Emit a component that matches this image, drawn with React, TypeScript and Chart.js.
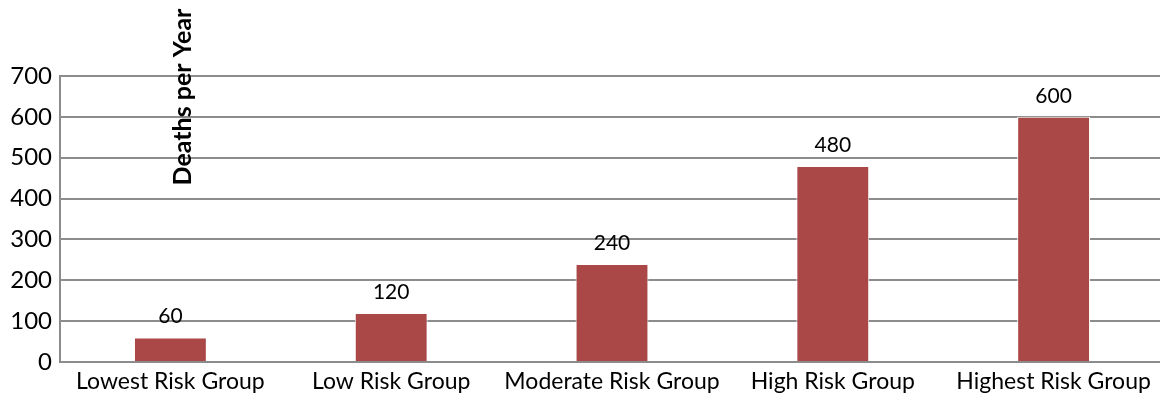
import React, { useEffect, useRef } from "react";
import { Chart, registerables } from "chart.js";

Chart.register(...registerables);

const categories = ["Lowest Risk Group", "Low Risk Group", "Moderate Risk Group", "High Risk Group", "Highest Risk Group"];
const deaths = [60, 120, 240, 480, 600];
const yTicks = [0, 100, 200, 300, 400, 500, 600, 700];
const axisTitle = "Deaths per Year";

const FONT = "Lato, 'Open Sans', sans-serif";

const labelPlugin = {
  id: "valueLabels",
  afterDatasetsDraw(chart: any) {
    const ctx = chart.ctx;
    const meta = chart.getDatasetMeta(0);
    ctx.save();
    ctx.font = `21px ${FONT}`;
    ctx.fillStyle = "#000";
    ctx.textAlign = "center";
    ctx.textBaseline = "middle";
    meta.data.forEach((bar: any, i: number) => {
      ctx.fillText(String(deaths[i]), bar.x, bar.y - 21);
    });
    ctx.restore();
  },
  afterDraw(chart: any) {
    const ctx = chart.ctx;
    const area = chart.chartArea;
    ctx.save();
    ctx.font = `bold 25px ${FONT}`;
    ctx.fillStyle = "#000";
    ctx.textAlign = "center";
    ctx.textBaseline = "middle";
    ctx.translate(area.left + 123, 97);
    ctx.rotate(-Math.PI / 2);
    ctx.fillText(axisTitle, 0, 0);
    ctx.restore();
  },
};

export default function App() {
  const ref = useRef<HTMLCanvasElement>(null);
  useEffect(() => {
    document.body.style.margin = "0";
    document.body.style.overflow = "hidden";
    const chart = new Chart(ref.current!, {
      type: "bar",
      data: {
        labels: categories,
        datasets: [
          {
            data: deaths,
            backgroundColor: "#A94846",
            borderColor: "#ffffff",
            borderWidth: 1,
            categoryPercentage: 1,
            barPercentage: 0.33,
          },
        ],
      },
      options: {
        animation: false,
        responsive: false,
        maintainAspectRatio: false,
        layout: { padding: { top: 76, right: 0, left: 0, bottom: 0 } },
        plugins: { legend: { display: false }, tooltip: { enabled: false }, title: { display: false } },
        scales: {
          x: {
            grid: { display: false },
            border: { display: false },
            ticks: { color: "#000", font: { family: FONT, size: 23 }, padding: -2, maxRotation: 0, autoSkip: false },
            afterFit(scale: any) {
              scale.height = 32;
            },
          },
          y: {
            min: 0,
            max: 700,
            afterBuildTicks(scale: any) {
              scale.ticks = yTicks.map((v) => ({ value: v }));
            },
            grid: { color: "#8c8c8c", lineWidth: 2, drawTicks: false },
            border: { display: true, color: "#8c8c8c", width: 2 },
            ticks: { color: "#000", font: { family: FONT, size: 24 }, padding: 8 },
            afterFit(scale: any) {
              scale.width = 60;
            },
          },
        },
      },
      plugins: [labelPlugin],
    });
    return () => chart.destroy();
  }, []);
  return (
    <div style={{ width: 1160, height: 394, overflow: "hidden" }}>
      <canvas ref={ref} width={1164} height={394} style={{ display: "block" }} />
    </div>
  );
}
